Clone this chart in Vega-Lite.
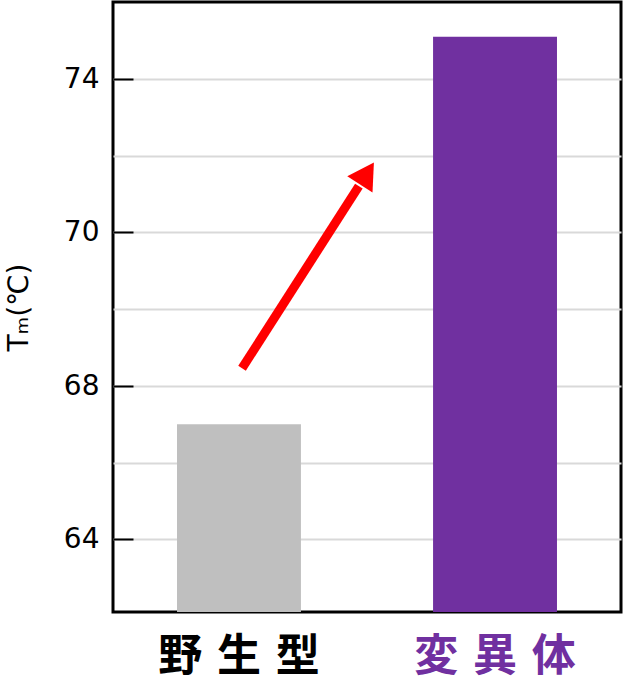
{
  "$schema": "https://vega.github.io/schema/vega-lite/v6.json",
  "width": 508,
  "height": 610,
  "autosize": "none",
  "padding": {"left": 113, "top": 2, "right": 4, "bottom": 71},
  "background": "white",
  "config": {"view": {"stroke": "black", "strokeWidth": 3}, "font": "DejaVu Sans"},
  "datasets": {
    "bars": [{"type": "野生型", "Tm": 67}, {"type": "変異体", "Tm": 75.1}],
    "arrow": [{"x": 0.254, "y": 68.23, "x2": 0.484, "y2": 71.2}],
    "head": [{"x": 0.4998, "y": 71.53}]
  },
  "layer": [
    {
      "data": {"name": "bars"},
      "mark": {"type": "bar"},
      "encoding": {
        "x": {
          "field": "type", "type": "nominal", "sort": null,
          "scale": {"paddingInner": 0.516, "paddingOuter": 0.25},
          "axis": {
            "title": null, "labelAngle": 0, "labelFontSize": 44, "labelFont": "Noto Sans CJK JP",
            "labelFontWeight": "bold", "labelPadding": 23, "domain": false, "ticks": false,
            "labelColor": {"condition": {"test": "datum.value === '変異体'", "value": "#7030a0"}, "value": "black"},
            "labelExpr": "datum.value === '変異体' ? '変\u2004異\u2004体' : '野\u2004生\u2004型'"
          }
        },
        "y": {
          "field": "Tm", "type": "quantitative",
          "scale": {"domain": [62.09, 64, 68, 70, 74, 76.01], "range": [610, 537, 384, 230, 77, 0], "zero": false, "nice": false, "clamp": true},
          "axis": {
            "values": [64, 66, 68, 69, 70, 72, 74],
            "title": "Tₘ(℃)", "titleFontSize": 28, "titleFontWeight": "normal", "titleColor": "black", "titlePadding": 30,
            "labelExpr": "indexof([64,68,70,74], datum.value) >= 0 ? datum.label : ''",
            "labelFontSize": 28, "labelColor": "black", "labelPadding": 34,
            "tickSize": -20, "tickWidth": 2, "tickColor": "black",
            "tickOpacity": {"condition": {"test": "indexof([64,68,70,74], datum.value) >= 0", "value": 1}, "value": 0},
            "grid": true, "gridColor": "#d9d9d9", "gridWidth": 2, "domain": false
          }
        },
        "color": {
          "field": "type", "type": "nominal",
          "scale": {"domain": ["野生型", "変異体"], "range": ["#bfbfbf", "#7030a0"]},
          "legend": null
        }
      }
    },
    {
      "data": {"name": "arrow"},
      "mark": {"type": "rule", "color": "red", "strokeWidth": 9},
      "encoding": {
        "x": {"field": "x", "type": "quantitative", "scale": {"domain": [0, 1], "nice": false, "zero": false}, "axis": null},
        "x2": {"field": "x2"},
        "y": {"field": "y", "type": "quantitative"},
        "y2": {"field": "y2"}
      }
    },
    {
      "data": {"name": "head"},
      "mark": {"type": "point", "shape": "triangle-up", "filled": true, "color": "red", "opacity": 1, "size": 900, "angle": 32.7, "strokeWidth": 0},
      "encoding": {
        "x": {"field": "x", "type": "quantitative", "scale": {"domain": [0, 1], "nice": false, "zero": false}, "axis": null},
        "y": {"field": "y", "type": "quantitative"}
      }
    }
  ],
  "resolve": {"scale": {"x": "independent"}}
}
